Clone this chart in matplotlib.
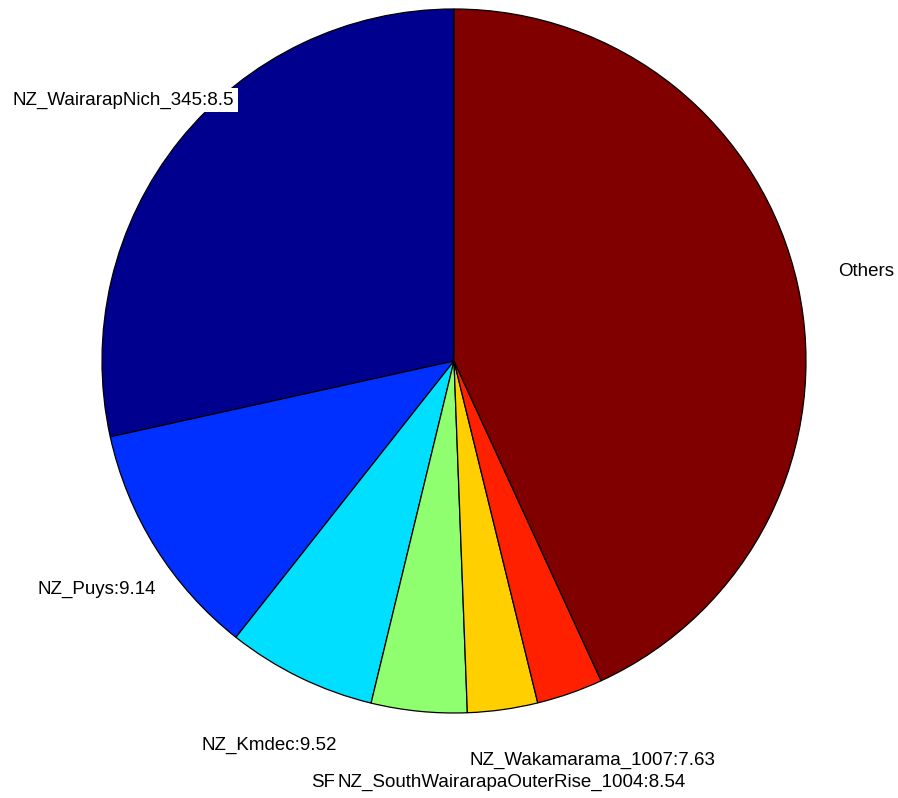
import matplotlib
matplotlib.use("Agg")
import matplotlib.pyplot as plt

# ---- data ----
labels = ["NZ_WairarapNich_345:8.5", "NZ_Puys:9.14", "NZ_Kmdec:9.52",
          "SF_Tonga:8.9", "NZ_SouthWairarapaOuterRise_1004:8.54",
          "NZ_Wakamarama_1007:7.63", "Others"]
values = [28.46, 10.91, 6.85, 4.39, 3.22, 3.04, 43.14]
colors = [(0, 0, 0.5625), (0, 0.1875, 1), (0, 0.875, 1), (0.5625, 1, 0.4375),
          (1, 0.8125, 0), (1, 0.125, 0), (0.5, 0, 0)]

# ---- layout (label anchors in axes data units, radius = 1) ----
label_xy = [(-0.625, 0.741), (-0.848, -0.650), (-0.333, -1.091), (-0.407, -1.196),
            (-0.330, -1.196), (0.045, -1.134), (1.091, 0.253)]
label_ha = ["right", "right", "right", "left", "left", "left", "left"]

W, H = 898, 798
fig = plt.figure(figsize=(W / 100, H / 100), dpi=100)
ax = fig.add_axes([0, 0, 1, 1])
cx, cy, r = 454, 361, 352

ax.pie(values, colors=colors, startangle=90, counterclock=True,
       wedgeprops=dict(edgecolor="black", linewidth=0.9))
ax.set_aspect("auto")
ax.set_xlim(-cx / r, (W - cx) / r)
ax.set_ylim(-(H - cy) / r, cy / r)
ax.axis("off")

for lab, (x, y), ha in zip(labels, label_xy, label_ha):
    ax.text(x, y, lab, ha=ha, va="center", fontsize=13.5,
            family=["Liberation Sans", "DejaVu Sans"], color="black",
            bbox=dict(facecolor="white", edgecolor="none", pad=2.5))

fig.savefig("out.png", dpi=100)
